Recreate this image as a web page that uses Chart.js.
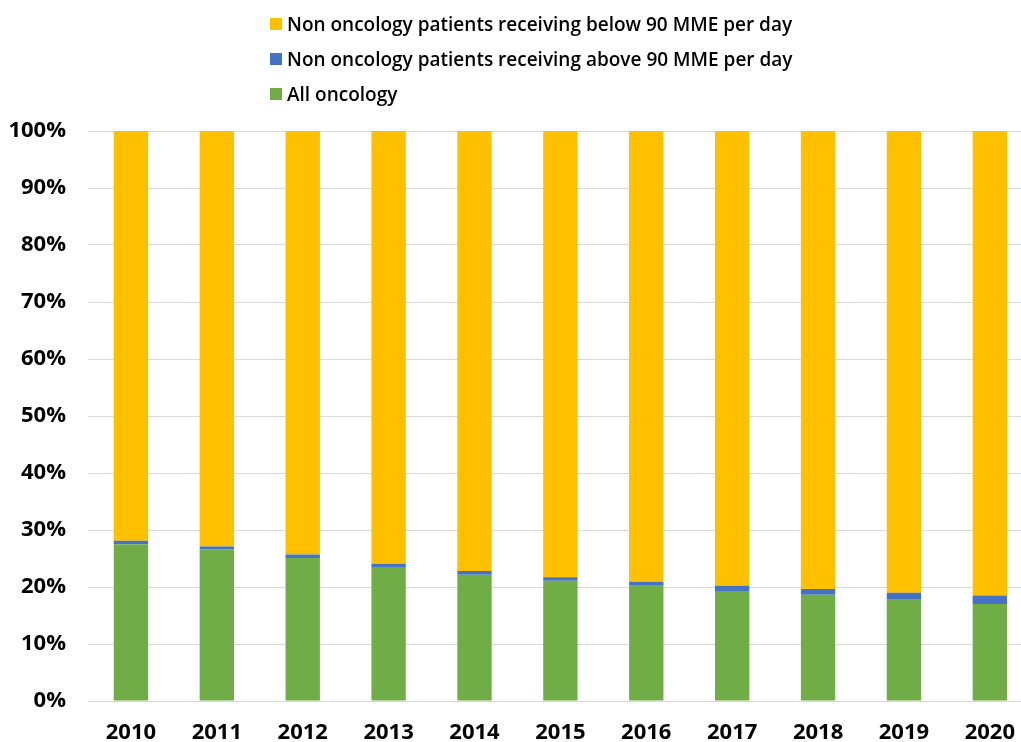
<!DOCTYPE html>
<html>
<head>
<meta charset="utf-8">
<script src="https://cdn.jsdelivr.net/npm/chart.js@4"></script>
<style>
  body { margin: 0; background: #fff; font-family: "Open Sans", sans-serif; overflow: hidden; }
  #wrap { position: relative; width: 1021px; height: 742px; overflow: hidden; }
  #legend { position: absolute; left: 270px; top: 6px; }
  .item { display: flex; align-items: center; height: 35px; font-size: 19px; font-weight: 600; color: #000; }
  .box { width: 12px; height: 12px; margin-right: 5px; }
</style>
</head>
<body>
<div id="wrap">
  <!-- plot runs a little past the right edge, as in the reference crop -->
  <canvas id="chart" width="1034" height="742"></canvas>
  <div id="legend"></div>
</div>
<script>
// Values (percent of patients)
const years = ["2010", "2011", "2012", "2013", "2014", "2015", "2016", "2017", "2018", "2019", "2020"];
const allOncology = [27.5, 26.6, 25.1, 23.5, 22.15, 21.1, 20.2, 19.3, 18.65, 17.9, 17.0];
const aboveNinety = [0.6, 0.5, 0.6, 0.6, 0.65, 0.6, 0.7, 0.9, 1.0, 1.1, 1.5];
const belowNinety = years.map((y, i) => +(100 - allOncology[i] - aboveNinety[i]).toFixed(2));

const tickFont = { family: "Open Sans", size: 22, weight: "bold" };

let ctx = document.getElementById("chart").getContext("2d");
let chart = new Chart(ctx, {
    type: "bar",
    data: {
        labels: years,
        datasets: [
            { label: "All oncology", data: allOncology, backgroundColor: "#70AD47" },
            { label: "Non oncology patients receiving above 90 MME per day", data: aboveNinety, backgroundColor: "#4472C4" },
            { label: "Non oncology patients receiving below 90 MME per day", data: belowNinety, backgroundColor: "#FFC000" }
        ]
    },
    options: {
        responsive: false,
        animation: false,
        layout: { padding: { top: 131, left: 0, right: 0, bottom: 0 } },
        datasets: { bar: { barPercentage: 0.4, categoryPercentage: 1 } },
        plugins: { legend: { display: false }, tooltip: { enabled: false } },
        scales: {
            x: {
                stacked: true,
                grid: { display: false, drawTicks: false },
                border: { color: "#d9d9d9", width: 1 },
                ticks: { color: "#000", font: tickFont, padding: 19 },
                afterFit: scale => { scale.height = 41; }
            },
            y: {
                stacked: true,
                min: 0,
                max: 100,
                grid: { color: "#d9d9d9", drawTicks: false },
                border: { display: false },
                ticks: { stepSize: 10, color: "#000", font: tickFont, padding: 22, callback: v => v + "%" },
                afterFit: scale => { scale.width = 88; }
            }
        }
    }
});

// Legend stacked vertically, top series first
let legend = document.getElementById("legend");
chart.data.datasets.slice().reverse().forEach(ds => {
    let row = document.createElement("div");
    row.className = "item";
    row.innerHTML = '<span class="box" style="background:' + ds.backgroundColor + '"></span>' + ds.label;
    legend.appendChild(row);
});
</script>
</body>
</html>
